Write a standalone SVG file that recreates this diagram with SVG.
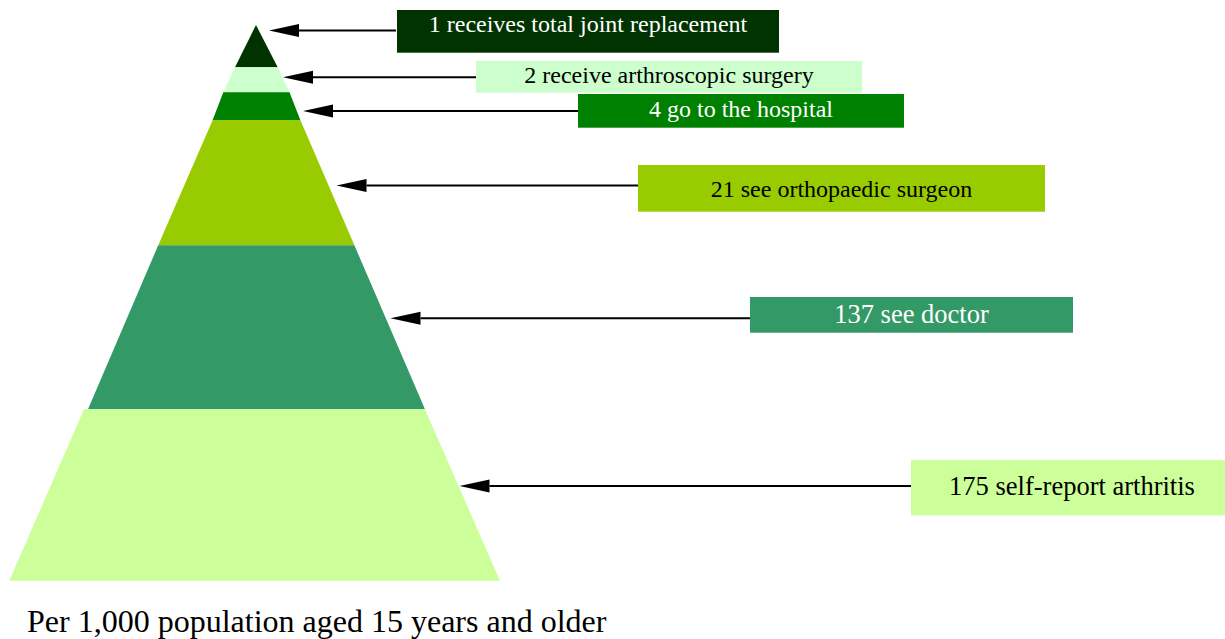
<svg xmlns="http://www.w3.org/2000/svg" width="1225" height="639" viewBox="0 0 1225 639">
<style>
  .lbl { font-family: "Liberation Serif", "Times New Roman", serif; text-anchor: middle; }
  .s24 { font-size: 24px; }
  .s26 { font-size: 26.5px; }
  .w { fill: #ffffff; }
  .k { fill: #000000; }
  .conn { stroke: #000000; stroke-width: 2; fill: none; marker-end: url(#ah); }
</style>
<defs>
  <marker id="ah" markerUnits="userSpaceOnUse" markerWidth="32" markerHeight="15" refX="0" refY="7" orient="auto" overflow="visible">
    <path d="M0,0.5 L30,7 L0,13.5 Z" fill="#000000"/>
  </marker>
</defs>
<rect width="1225" height="639" fill="#ffffff"/>

<g id="pyramid">
  <polygon points="256,25 277.7,67.3 235,67.3" fill="#003300"/>
  <polygon points="235,67.3 277.7,67.3 289.5,92.3 223.3,92.3" fill="#CCFFCC"/>
  <polygon points="223.3,92.3 289.5,92.3 300.3,120 212.7,120" fill="#008000"/>
  <polygon points="212.7,120 300.3,120 354.4,245.3 158.2,245.3" fill="#99CC00"/>
  <polygon points="158.2,245.3 354.4,245.3 425,409.3 88,409.3" fill="#339966"/>
  <polygon points="84,409.3 425,409.3 500,580.7 9.3,580.7" fill="#CCFF99"/>
</g>

<g id="connectors">
  <path class="conn" d="M396,30.5 H299"/>
  <path class="conn" d="M476,77.3 H313"/>
  <path class="conn" d="M578,111 H333"/>
  <path class="conn" d="M638,185.5 H366.5"/>
  <path class="conn" d="M750,318.3 H420.5"/>
  <path class="conn" d="M911,486 H489.5"/>
</g>

<g id="n1">
  <rect x="397" y="10" width="382" height="42.7" fill="#003300"/>
  <text class="lbl s24 w" x="588" y="32">1 receives total joint replacement</text>
</g>
<g id="n2">
  <rect x="476" y="61" width="386" height="31.7" fill="#CCFFCC"/>
  <text class="lbl s24 k" x="669" y="82.5">2 receive arthroscopic surgery</text>
</g>
<g id="n3">
  <rect x="578" y="94" width="326" height="33.7" fill="#008000"/>
  <text class="lbl s24 w" x="741" y="116.5">4 go to the hospital</text>
</g>
<g id="n4">
  <rect x="638" y="165" width="407" height="46.7" fill="#99CC00"/>
  <text class="lbl s24 k" x="841.5" y="196.5">21 see orthopaedic surgeon</text>
</g>
<g id="n5">
  <rect x="750" y="297" width="323" height="35.7" fill="#339966"/>
  <text class="lbl s26 w" x="911.5" y="322.5">137 see doctor</text>
</g>
<g id="n6">
  <rect x="911" y="460" width="322" height="55.3" fill="#CCFF99"/>
  <text class="lbl s26 k" x="1072" y="495">175 self-report arthritis</text>
</g>

<g id="caption">
  <text x="27" y="632" font-family="'Liberation Serif', 'Times New Roman', serif" font-size="32" fill="#000000">Per 1,000 population aged 15 years and older</text>
</g>
</svg>
